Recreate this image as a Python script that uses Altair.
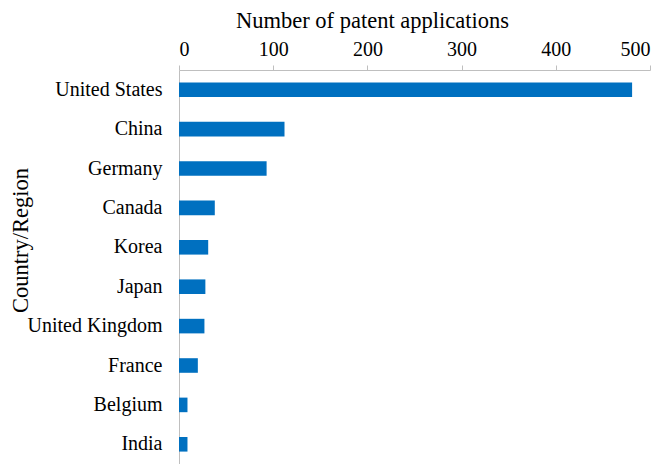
import altair as alt
import pandas as pd

countries = ["United States", "China", "Germany", "Canada", "Korea", "Japan",
             "United Kingdom", "France", "Belgium", "India"]
applications = [481, 112, 93, 38, 31, 28, 27, 20, 9, 9]

df = pd.DataFrame({"country": countries, "n": applications})

FONT = "Liberation Serif"

chart = alt.Chart(df).mark_bar(color="#0070C0").encode(
    x=alt.X("n:Q",
            scale=alt.Scale(domain=[0, 500], nice=False),
            axis=alt.Axis(orient="top", values=[0, 100, 200, 300, 400, 500],
                          title="Number of patent applications",
                          titleFont=FONT, titleFontSize=22.5, titleFontWeight="normal",
                          titleColor="black", titleX=193, titleY=-43,
                          titleAlign="center", titleBaseline="alphabetic",
                          labelFont=FONT, labelFontSize=20, labelColor="black",
                          labelPadding=6, tickSize=5, tickColor="#BFBFBF",
                          domainColor="#BFBFBF", grid=False)),
    y=alt.Y("country:N", sort=countries,
            scale=alt.Scale(paddingInner=0.63, paddingOuter=0.315),
            axis=alt.Axis(title="Country/Region", ticks=False,
                          titleFont=FONT, titleFontSize=22.5, titleFontWeight="normal",
                          titleColor="black", titleAngle=-90, titleX=-152, titleY=170,
                          titleAlign="center", titleBaseline="alphabetic",
                          labelFont=FONT, labelFontSize=20, labelColor="black",
                          labelPadding=17, domainColor="#BFBFBF", labelLimit=300)),
).properties(
    width=471, height=394,
    autosize=alt.AutoSizeParams(type="none"),
    padding={"left": 171, "top": 62, "right": 8, "bottom": 0},
).configure_view(stroke=None)

chart.save("out.html", embed_options={"renderer": "svg", "actions": False})
